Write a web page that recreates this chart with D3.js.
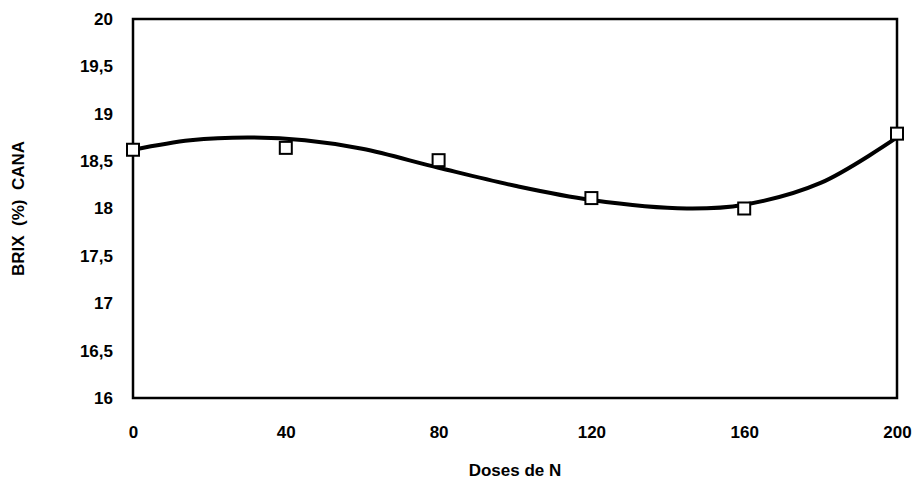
<!DOCTYPE html>
<html><head><meta charset="utf-8">
<script src="https://cdn.jsdelivr.net/npm/d3@7"></script>
<style>body{margin:0;background:#fff}text{font-family:"Liberation Sans",Arial,sans-serif;font-weight:bold}</style>
</head><body><div id="chart"></div>
<script>
var doses = [0, 40, 80, 120, 160, 200];
var brix = [18.62, 18.64, 18.51, 18.11, 18.0, 18.79];
var trendX = [0, 15, 30, 45, 60, 80, 100, 120, 145, 160, 180, 200];
var trendY = [18.62, 18.72, 18.75, 18.72, 18.63, 18.43, 18.24, 18.09, 18.0, 18.04, 18.27, 18.75];
var yTicks = [16, 16.5, 17, 17.5, 18, 18.5, 19, 19.5, 20];

var svgWidth = 914, svgHeight = 488;
var margin = {top: 19, right: 17, bottom: 90, left: 133};
var width = svgWidth - margin.left - margin.right;
var height = svgHeight - margin.top - margin.bottom;

var svg = d3.select("#chart").append("svg")
  .attr("width", svgWidth).attr("height", svgHeight);
var g = svg.append("g").attr("transform", `translate(${margin.left}, ${margin.top})`);

var x = d3.scaleLinear().domain([0, 200]).range([0, width]);
var y = d3.scaleLinear().domain([16, 20]).range([height, 0]);
var fmt = d => String(d).replace(".", ",");

var xAxis = g.append("g").attr("transform", `translate(0, ${height})`)
  .call(d3.axisBottom(x).tickValues(doses).tickSize(0).tickPadding(28));
var yAxis = g.append("g")
  .call(d3.axisLeft(y).tickValues(yTicks).tickFormat(fmt).tickSize(0).tickPadding(20));
[xAxis, yAxis].forEach(a => {
  a.select(".domain").remove();
  a.selectAll("text").attr("font-size", 17).attr("fill", "#000")
    .style("font-family", "Liberation Sans, Arial, sans-serif").style("font-weight", "bold");
});

g.append("rect").attr("width", width).attr("height", height)
  .attr("fill", "none").attr("stroke", "#000").attr("stroke-width", 2.5);

g.append("path")
  .datum(trendX.map((d, i) => [d, trendY[i]]))
  .attr("d", d3.line().x(d => x(d[0])).y(d => y(d[1])).curve(d3.curveCatmullRom))
  .attr("fill", "none").attr("stroke", "#000").attr("stroke-width", 4);

g.selectAll(".pt").data(doses).enter().append("rect")
  .attr("x", (d) => x(d) - 6).attr("y", (d, i) => y(brix[i]) - 6)
  .attr("width", 12).attr("height", 12)
  .attr("fill", "#fff").attr("stroke", "#000").attr("stroke-width", 2);

svg.append("text").attr("x", margin.left + width / 2).attr("y", 476)
  .attr("text-anchor", "middle").attr("font-size", 17).text("Doses de N");

svg.append("text").attr("transform", `translate(24, ${margin.top + height / 2}) rotate(-90)`)
  .attr("text-anchor", "middle").attr("font-size", 17)
  .attr("xml:space", "preserve").text("BRIX  (%)  CANA");
</script></body></html>
